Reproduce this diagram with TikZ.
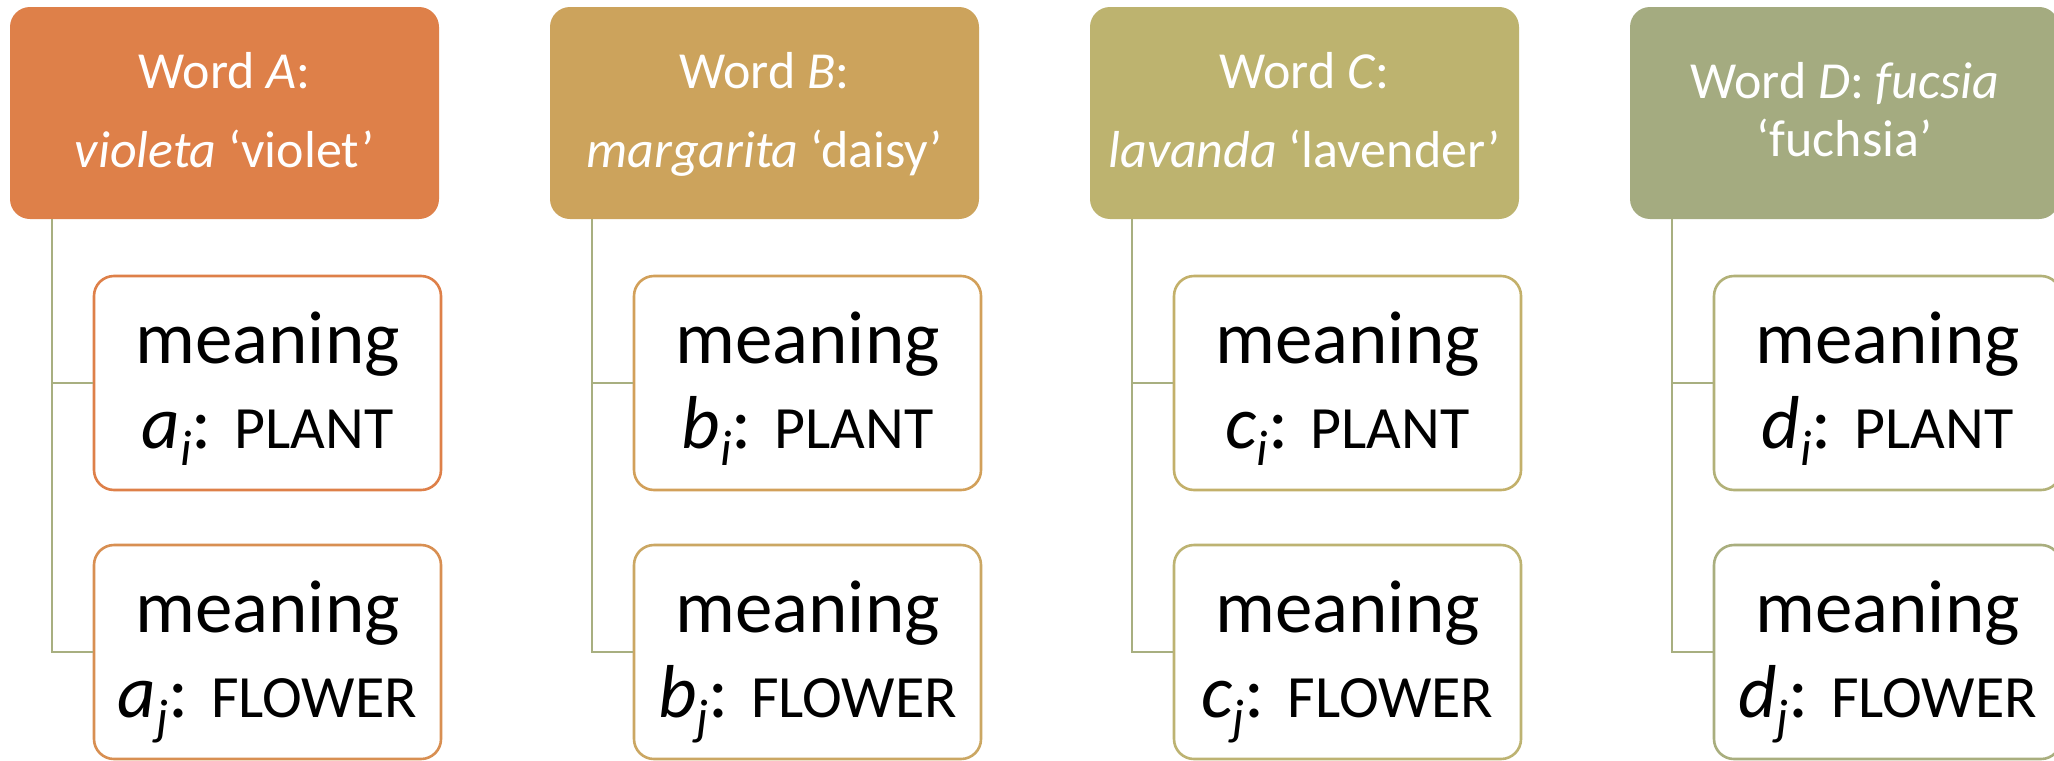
\documentclass[tikz,border=0pt]{standalone}
\usepackage{fontspec}
\setmainfont{Carlito}
\definecolor{hdrA}{HTML}{DE8049}
\definecolor{hdrB}{HTML}{CCA35C}
\definecolor{hdrC}{HTML}{BDB36F}
\definecolor{hdrD}{HTML}{A4AB80}
\definecolor{bAi}{HTML}{DE8049}
\definecolor{bAj}{HTML}{D88F52}
\definecolor{bBi}{HTML}{D2A05A}
\definecolor{bBj}{HTML}{CBA763}
\definecolor{bCi}{HTML}{C3B06A}
\definecolor{bCj}{HTML}{BDB372}
\definecolor{bDi}{HTML}{B2B178}
\definecolor{bDj}{HTML}{A9AE7E}
\definecolor{linkc}{HTML}{A8AF80}
\newcommand{\mysub}[1]{\raisebox{-8.5pt}{\fontsize{25}{25}\selectfont\itshape #1}}
\newcommand{\capsm}[1]{{\fontsize{30}{30}\selectfont #1}}
\newcommand{\twoline}[2]{\begin{tabular}[t]{@{}c@{}}#1\\#2\end{tabular}}
\tikzset{
  hdr/.style={rectangle, rounded corners=10pt, fill=#1, minimum width=214.5pt, minimum height=106pt, inner sep=0pt},
  child/.style={rectangle, draw=#1, line width=1.3pt, rounded corners=10pt, fill=white, minimum width=173.5pt, minimum height=107pt, inner sep=0pt},
  hdrtxt/.style={text=white, anchor=base, inner sep=0pt, font=\fontsize{26}{39.5}\selectfont},
  hdrtxtD/.style={text=white, anchor=base, inner sep=0pt, font=\fontsize{26}{29}\selectfont},
  chtxt/.style={text=black, anchor=base, inner sep=0pt, font=\fontsize{37.5}{42.5}\selectfont},
  link/.style={draw=linkc, line width=1.3pt}
}
\begin{document}
\begin{tikzpicture}[x=0.5pt, y=-0.5pt]
\useasboundingbox (0,0) rectangle (2054,760);
\clip (0,0) rectangle (2054,760);
\fill[white] (0,0) rectangle (2054,760);
% Column A
\node[hdr=hdrA] (hA) at (224.5,113) {};
\node[hdrtxt] (tA) at (224.5,88) {\twoline{Word \textit{A}:}{\textit{violeta} ‘violet’}};
\node[child=bAi] (ai) at (267.5,383) {};
\node[child=bAj] (aj) at (267.5,652) {};
\node[chtxt] (tai) at (267.5,363) {\twoline{meaning}{\textit{a}\mysub{i}: \capsm{PLANT}}};
\node[chtxt] (taj) at (267.5,632) {\twoline{meaning}{\textit{a}\mysub{j}: \capsm{FLOWER}}};
\draw[link] ([xshift=21.25pt]hA.south west) |- (ai.west);
\draw[link] ([xshift=21.25pt]hA.south west) |- (aj.west);
% Column B
\node[hdr=hdrB] (hB) at (764.5,113) {};
\node[hdrtxt] (tB) at (764.5,88) {\twoline{Word \textit{B}:}{\textit{margarita} ‘daisy’}};
\node[child=bBi] (bi) at (807.5,383) {};
\node[child=bBj] (bj) at (807.5,652) {};
\node[chtxt] (tbi) at (807.5,363) {\twoline{meaning}{\textit{b}\mysub{i}: \capsm{PLANT}}};
\node[chtxt] (tbj) at (807.5,632) {\twoline{meaning}{\textit{b}\mysub{j}: \capsm{FLOWER}}};
\draw[link] ([xshift=21.25pt]hB.south west) |- (bi.west);
\draw[link] ([xshift=21.25pt]hB.south west) |- (bj.west);
% Column C
\node[hdr=hdrC] (hC) at (1304.5,113) {};
\node[hdrtxt] (tC) at (1304.5,88) {\twoline{Word \textit{C}:}{\textit{lavanda} ‘lavender’}};
\node[child=bCi] (ci) at (1347.5,383) {};
\node[child=bCj] (cj) at (1347.5,652) {};
\node[chtxt] (tci) at (1347.5,363) {\twoline{meaning}{\textit{c}\mysub{i}: \capsm{PLANT}}};
\node[chtxt] (tcj) at (1347.5,632) {\twoline{meaning}{\textit{c}\mysub{j}: \capsm{FLOWER}}};
\draw[link] ([xshift=21.25pt]hC.south west) |- (ci.west);
\draw[link] ([xshift=21.25pt]hC.south west) |- (cj.west);
% Column D
\node[hdr=hdrD] (hD) at (1844.5,113) {};
\node[hdrtxtD] (tD) at (1844.5,98) {\twoline{Word \textit{D}: \textit{fucsia}}{‘fuchsia’}};
\node[child=bDi] (di) at (1887.5,383) {};
\node[child=bDj] (dj) at (1887.5,652) {};
\node[chtxt] (tdi) at (1887.5,363) {\twoline{meaning}{\textit{d}\mysub{i}: \capsm{PLANT}}};
\node[chtxt] (tdj) at (1887.5,632) {\twoline{meaning}{\textit{d}\mysub{j}: \capsm{FLOWER}}};
\draw[link] ([xshift=21.25pt]hD.south west) |- (di.west);
\draw[link] ([xshift=21.25pt]hD.south west) |- (dj.west);
\end{tikzpicture}
\end{document}
